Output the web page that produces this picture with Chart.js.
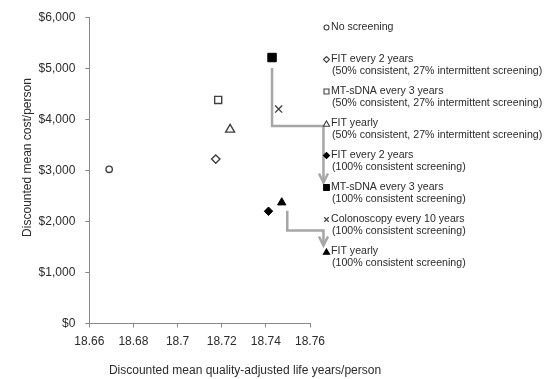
<!DOCTYPE html>
<html>
<head>
<meta charset="utf-8">
<script src="https://cdn.jsdelivr.net/npm/chart.js@4.4.1/dist/chart.umd.min.js"></script>
<style>
  html, body { margin: 0; padding: 0; background: #fff; }
  #wrap { width: 544px; height: 379px; position: relative; }
</style>
</head>
<body>
<div id="wrap"><canvas id="cea"></canvas></div>
<script>
// strategies (legend order)
const strategyNames = ['No screening', 'FIT every 2 years', 'MT-sDNA every 3 years', 'FIT yearly',
  'FIT every 2 years', 'MT-sDNA every 3 years', 'Colonoscopy every 10 years', 'FIT yearly'];
const strategyNotes = ['', '(50% consistent, 27% intermittent screening)',
  '(50% consistent, 27% intermittent screening)', '(50% consistent, 27% intermittent screening)',
  '(100% consistent screening)', '(100% consistent screening)',
  '(100% consistent screening)', '(100% consistent screening)'];
const qalys = [18.669, 18.7173, 18.7184, 18.7238, 18.7412, 18.7428, 18.7458, 18.7472];
const costs = [3020, 3220, 4380, 3800, 2200, 5210, 4200, 2370];

const xTicks = [18.66, 18.68, 18.7, 18.72, 18.74, 18.76];
const xTickLabels = ['18.66', '18.68', '18.7', '18.72', '18.74', '18.76'];
const yTicks = [0, 1000, 2000, 3000, 4000, 5000, 6000];
const yTickLabels = ['$0', '$1,000', '$2,000', '$3,000', '$4,000', '$5,000', '$6,000'];

// marker look per strategy
const markers = ['circle', 'rectRot', 'rect', 'triangle', 'rectRot', 'rect', 'crossRot', 'triangle'];
const filled = [false, false, false, false, true, true, false, true];
const sizes = [3.2, 4.2, 5, 5.2, 4.2, 6, 5, 4.8];
const legendSizes = [2.5, 3, 3.5, 3.6, 3, 4, 3.2, 3.6];

// gray arrows (data units)
const arrows = [
  [[18.7428, 5005], [18.7428, 3867], [18.7661, 3867], [18.7661, 2762]],
  [[18.7497, 2211], [18.7497, 1821], [18.7661, 1821], [18.7661, 1529]]
];

const FONT = '"Liberation Sans", Arial, sans-serif';
const TXT = '#2b2b2b';
const OUTLINE = '#404040';

const datasets = strategyNames.map((name, i) => ({
  label: name,
  data: [{ x: qalys[i], y: costs[i] }],
  pointStyle: markers[i],
  pointRadius: sizes[i],
  pointHoverRadius: sizes[i],
  pointBorderWidth: filled[i] ? 1 : 1.4,
  pointBorderColor: filled[i] ? '#000' : OUTLINE,
  pointBackgroundColor: filled[i] ? '#000' : '#fff',
  showLine: false
}));

const extras = {
  id: 'extras',
  afterDatasetsDraw(chart) {
    const { ctx, scales: { x, y } } = chart;
    ctx.save();
    // arrows
    ctx.strokeStyle = '#a6a6a6';
    ctx.lineWidth = 2.5;
    ctx.lineJoin = 'miter';
    arrows.forEach(path => {
      ctx.beginPath();
      path.forEach(([vx, vy], k) => {
        const px = x.getPixelForValue(vx), py = y.getPixelForValue(vy);
        if (k === 0) ctx.moveTo(px, py); else ctx.lineTo(px, py);
      });
      ctx.stroke();
      const [tx, ty] = path[path.length - 1];
      const px = x.getPixelForValue(tx), py = y.getPixelForValue(ty);
      ctx.beginPath();
      ctx.moveTo(px - 4.5, py - 9);
      ctx.lineTo(px, py);
      ctx.lineTo(px + 4.5, py - 9);
      ctx.stroke();
    });

    // legend
    const mx = 326.5, tx0 = 331;
    ctx.font = '10.6px ' + FONT;
    ctx.textBaseline = 'middle';
    ctx.textAlign = 'left';
    strategyNames.forEach((name, i) => {
      const ry = 27.5 + 32 * i;
      ctx.fillStyle = filled[i] ? '#000' : '#fff';
      ctx.strokeStyle = filled[i] ? '#000' : OUTLINE;
      ctx.lineWidth = 1.1;
      Chart.helpers.drawPoint(ctx, { pointStyle: markers[i], radius: legendSizes[i], rotation: 0, borderWidth: 1.1 },
        mx, ry + (markers[i] === 'triangle' ? 1 : 0));
      ctx.fillStyle = TXT;
      ctx.fillText(name, tx0, ry);
      if (strategyNotes[i]) ctx.fillText(strategyNotes[i], tx0 + 1, ry + 12);
    });

    // axis titles
    ctx.font = '12px ' + FONT;
    ctx.fillStyle = TXT;
    ctx.textAlign = 'center';
    ctx.fillText('Discounted mean quality-adjusted life years/person', 245, 371);
    ctx.translate(28, 157.5);
    ctx.rotate(-Math.PI / 2);
    ctx.fillText('Discounted mean cost/person', 0, 0);
    ctx.restore();
  }
};

new Chart(document.getElementById('cea'), {
  type: 'scatter',
  data: { datasets },
  options: {
    responsive: true,
    maintainAspectRatio: false,
    animation: false,
    layout: { padding: { left: 0, right: 234, top: 15.5, bottom: 0 } },
    plugins: { legend: { display: false }, tooltip: { enabled: false } },
    scales: {
      x: {
        type: 'linear',
        min: 18.66, max: 18.76,
        afterBuildTicks: s => { s.ticks = xTicks.map(v => ({ value: v })); },
        afterFit: s => { s.height = 55.5; },
        grid: { drawOnChartArea: false, tickLength: 4, color: '#888' },
        border: { color: '#888', width: 1 },
        ticks: {
          padding: 7,
          color: TXT,
          font: { size: 12, family: FONT },
          maxRotation: 0,
          callback: (v, i) => xTickLabels[i]
        }
      },
      y: {
        type: 'linear',
        min: 0, max: 6000,
        afterBuildTicks: s => { s.ticks = yTicks.map(v => ({ value: v })); },
        afterFit: s => { s.width = 89.3; },
        grid: { drawOnChartArea: false, tickLength: 4, color: '#888' },
        border: { color: '#888', width: 1 },
        ticks: {
          padding: 10,
          color: TXT,
          font: { size: 12, family: FONT },
          callback: (v, i) => yTickLabels[i]
        }
      }
    }
  },
  plugins: [extras]
});
</script>
</body>
</html>
